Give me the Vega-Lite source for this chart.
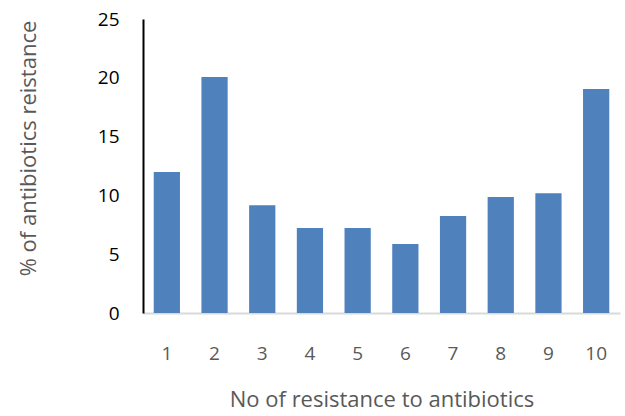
{
  "$schema": "https://vega.github.io/schema/vega-lite/v6.json",
  "width": 477,
  "height": 294,
  "autosize": {"type": "none"},
  "padding": {"left": 143, "top": 19, "right": 5, "bottom": 103},
  "background": "white",
  "config": {"view": {"stroke": null}, "font": "Open Sans"},
  "data": {"values": [
    {"n": "1", "pct": 12.0},
    {"n": "2", "pct": 20.07},
    {"n": "3", "pct": 9.16},
    {"n": "4", "pct": 7.23},
    {"n": "5", "pct": 7.23},
    {"n": "6", "pct": 5.87},
    {"n": "7", "pct": 8.25},
    {"n": "8", "pct": 9.86},
    {"n": "9", "pct": 10.18},
    {"n": "10", "pct": 19.05}
  ]},
  "mark": {"type": "bar", "color": "#4F81BD"},
  "encoding": {
    "x": {
      "field": "n", "type": "ordinal", "sort": null,
      "scale": {"paddingInner": 0.45, "paddingOuter": 0.225},
      "axis": {
        "title": "No of resistance to antibiotics",
        "titleFontSize": 22, "titleFontWeight": "normal", "titleColor": "#595959",
        "titlePadding": 26,
        "labelAngle": 0, "labelFontSize": 19, "labelColor": "#595959",
        "labelPadding": 31, "ticks": false,
        "domainColor": "#D9D9D9", "domainWidth": 2
      }
    },
    "y": {
      "field": "pct", "type": "quantitative",
      "scale": {"domain": [0, 25], "nice": false},
      "axis": {
        "title": "% of antibiotics reistance",
        "titleFontSize": 22, "titleFontWeight": "normal", "titleColor": "#595959",
        "titleX": -115, "titleY": 129, "titleBaseline": "middle", "titleAlign": "center",
        "values": [0, 5, 10, 15, 20, 25],
        "labelFontSize": 19, "labelColor": "#000000", "labelPadding": 24,
        "ticks": false, "grid": false,
        "domainColor": "#000000", "domainWidth": 2
      }
    }
  }
}
